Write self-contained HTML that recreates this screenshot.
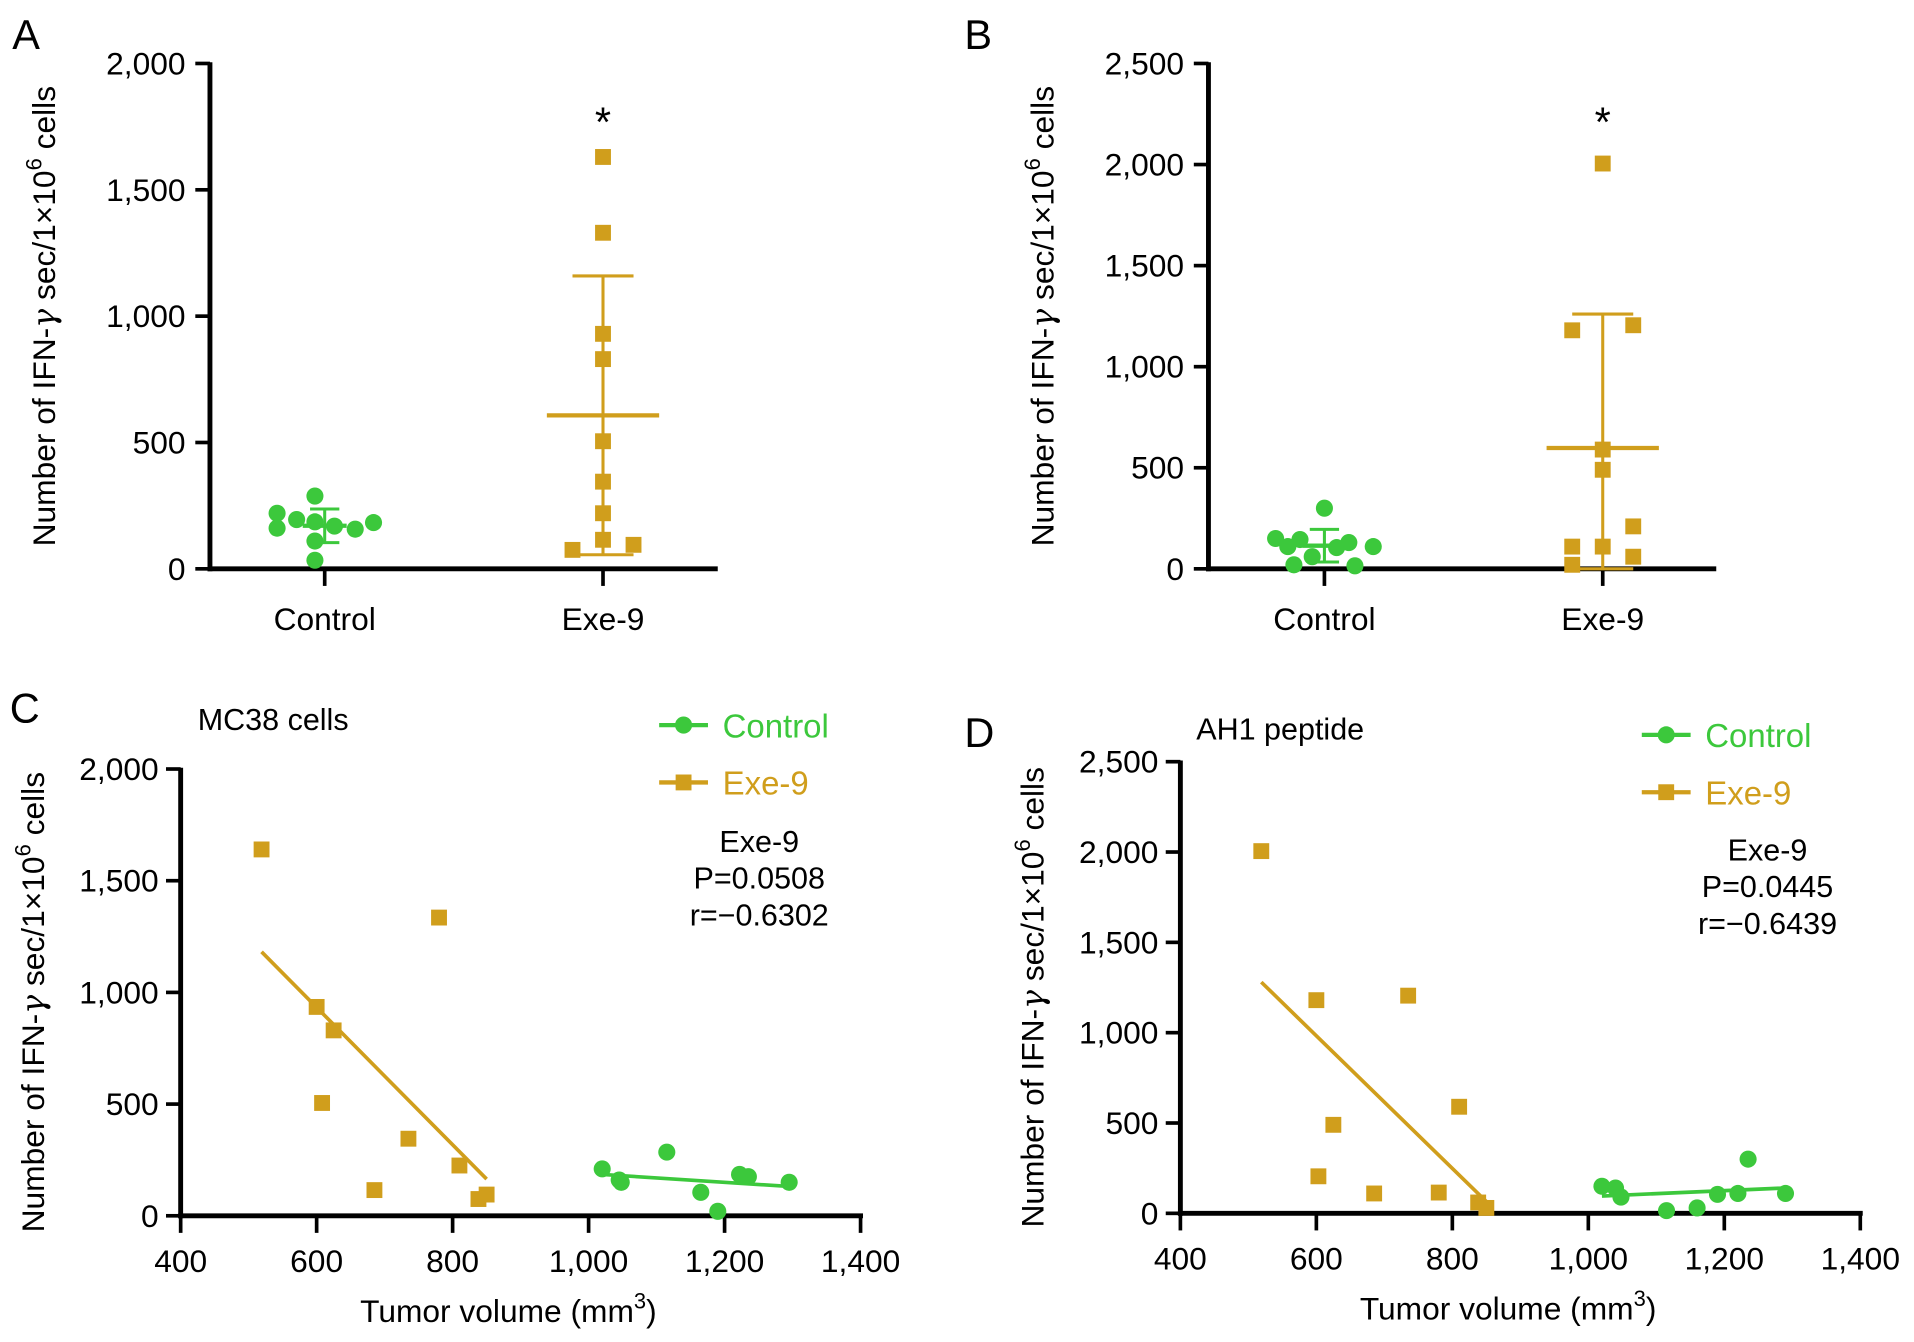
<!DOCTYPE html>
<html><head><meta charset="utf-8"><style>
html,body{margin:0;padding:0;background:#fff}
svg{display:block}
text{font-family:"Liberation Sans",Arial,sans-serif}
</style></head><body>
<svg id="fig" xmlns="http://www.w3.org/2000/svg" width="1914" height="1342" viewBox="0 0 1568 1099.4"></svg>
<script>
const GREEN = '#3cc83c', GOLD = '#d09e1c';
// Panel A data
const aControl = [288,220,195,186,169,157,183,161,110,34];
const aExe = [1630,1330,930,830,505,345,220,115,75,95];
// Panel B data
const bControl = [300,150,145,130,110,110,105,60,20,15];
const bExe = [2005,1180,1205,590,490,110,110,210,60,20];
// jitter (column offsets, display order)
const jitC = [-8,-39,-23,-8,8,25,40,-39,-8,-8];
const jitE = [0,0,0,0,0,0,0,0,-25,25];
const jitBC = [0,-40,-20,20,40,-30,10,-10,-25,25];
const jitBE = [0,-25,25,0,0,-25,0,25,25,-25];
// Panel C data
const cExeX = [519,600,625,608,685,735,780,810,838,850];
const cExeY = [1640,935,830,505,115,345,1335,225,75,95];
const cCtlX = [1020,1045,1048,1115,1165,1190,1222,1235,1295];
const cCtlY = [210,160,150,285,105,20,185,175,150];
// Panel D data
const dExeX = [519,600,625,603,685,735,780,810,838,850];
const dExeY = [2005,1180,490,205,110,1205,115,590,60,30];
const dCtlX = [1020,1040,1048,1115,1160,1190,1220,1235,1290];
const dCtlY = [150,140,90,15,30,105,110,300,110];
const yTicksA = [0,500,1000,1500,2000];
const yTicksB = [0,500,1000,1500,2000,2500];
const xTicksC = [400,600,800,1000,1200,1400];

const NS='http://www.w3.org/2000/svg';
const svg=document.getElementById('fig');
function mk(tag,attrs,parent){const e=document.createElementNS(NS,tag);for(const k in attrs)e.setAttribute(k,attrs[k]);(parent||svg).appendChild(e);return e;}
function txt(s,x,y,size,anchor,fill,parent){const t=mk('text',{x:x,y:y,'font-size':size,'text-anchor':anchor||'start',fill:fill||'#000'},parent);t.textContent=s;return t;}
function fmt(v){return v.toLocaleString('en-US');}
function mean(a){return a.reduce((s,v)=>s+v,0)/a.length;}
function sd(a){const m=mean(a);return Math.sqrt(a.reduce((s,v)=>s+(v-m)*(v-m),0)/(a.length-1));}
function circle(x,y,col,g){const c=mk('circle',{cx:x,cy:y,r:7,fill:col},g);return c;}
function square(x,y,col,g){const r=mk('rect',{x:x-6.5,y:y-6.5,width:13,height:13,fill:col},g);return r;}
function yTitle(x,cy,g){const t=mk('text',{x:0,y:0,'font-size':26,'text-anchor':'middle',transform:`translate(${x},${cy}) rotate(-90)`},g);
 t.innerHTML='Number of IFN-<tspan font-family="DejaVu Serif" font-style="italic">γ</tspan> sec/1×10<tspan dy="-11" font-size="18">6</tspan><tspan dy="11"> cells</tspan>';
 }

function dotPanel(name,letter,lx,ly,ax,top,bot,right,ymax,ticks,xC,xE,ctl,exe,jc,je){
 const g=mk('g',{});
 
 
 const y=v=>bot-(v/ymax)*(bot-top);
 const L=txt(letter,lx,ly,34,'start','#000',g);
 mk('line',{x1:ax,y1:top-1,x2:ax,y2:bot+2,stroke:'#000','stroke-width':4},g);
 mk('line',{x1:ax-2,y1:bot,x2:right,y2:bot,stroke:'#000','stroke-width':4},g);
 ticks.forEach(v=>{mk('line',{x1:ax-12,y1:y(v),x2:ax,y2:y(v),stroke:'#000','stroke-width':3},g);
  const t=txt(fmt(v),ax-20,y(v)+9,26,'end','#000',g);});
 [[xC,'Control'],[xE,'Exe-9']].forEach(([x,s])=>{mk('line',{x1:x,y1:bot,x2:x,y2:bot+14,stroke:'#000','stroke-width':3},g);
  const t=txt(s,x,bot+50,26,'middle','#000',g);});
 yTitle(ax-127,(top+bot)/2,g);
 [[ctl,xC,GREEN,circle,jc,18,12],[exe,xE,GOLD,square,je,46,25]].forEach(([d,x,col,fn,j,mw,cw])=>{
  const m=mean(d),s=sd(d);
  const eb=mk('g',{},g);
  mk('line',{x1:x,y1:y(Math.max(0,m-s)),x2:x,y2:y(m+s),stroke:col,'stroke-width':2.5},eb);
  mk('line',{x1:x-cw,y1:y(m+s),x2:x+cw,y2:y(m+s),stroke:col,'stroke-width':2.5},eb);
  mk('line',{x1:x-cw,y1:y(Math.max(0,m-s)),x2:x+cw,y2:y(Math.max(0,m-s)),stroke:col,'stroke-width':2.5},eb);
  mk('line',{x1:x-mw,y1:y(m),x2:x+mw,y2:y(m),stroke:col,'stroke-width':3.5},eb);
  d.forEach((v,i)=>{const p=fn(x+j[i],y(v),col,g);
   
   });
 });
 const st=txt('*',xE,y(ymax)+60,34,'middle','#000',g);
}
dotPanel('a','A',10,40,172,52,466,588,2000,yTicksA,266,494,aControl,aExe,jitC,jitE);
dotPanel('b','B',790,40,990,52,466,1406,2500,yTicksB,1085,1313,bControl,bExe,jitBC,jitBE);

function reg(xs,ys){const mx=mean(xs),my=mean(ys);let sxy=0,sxx=0;xs.forEach((x,i)=>{sxy+=(x-mx)*(ys[i]-my);sxx+=(x-mx)*(x-mx);});const b=sxy/sxx;return [b,my-b*mx];}

function scatterPanel(name,letter,lx,ly,ax,top,bot,right,ymax,ticks,sub,subx,suby,exX,exY,ctX,ctY,legX,legY,stX,stY,P,R){
 const g=mk('g',{});
 
 
 const y=v=>bot-(v/ymax)*(bot-top);
 const x=v=>ax+(v-400)/1000*(right-ax);
 const L=txt(letter,lx,ly,34,'start','#000',g);
 const s=txt(sub,subx,suby,25,'start','#000',g);
 mk('line',{x1:ax,y1:top-1,x2:ax,y2:bot+2,stroke:'#000','stroke-width':4},g);
 mk('line',{x1:ax-2,y1:bot,x2:right+2,y2:bot,stroke:'#000','stroke-width':4},g);
 ticks.forEach(v=>{mk('line',{x1:ax-12,y1:y(v),x2:ax,y2:y(v),stroke:'#000','stroke-width':3},g);
  const t=txt(fmt(v),ax-18,y(v)+9,26,'end','#000',g);});
 xTicksC.forEach(v=>{mk('line',{x1:x(v),y1:bot,x2:x(v),y2:bot+14,stroke:'#000','stroke-width':3},g);
  const t=txt(fmt(v),x(v),bot+46,26,'middle','#000',g);});
 yTitle(ax-112,(top+bot)/2+8,g);
 const xt=mk('text',{x:(ax+right)/2-10,y:bot+87,'font-size':26,'text-anchor':'middle'},g);
 xt.innerHTML='Tumor volume (mm<tspan dy="-11" font-size="18">3</tspan><tspan dy="11">)</tspan>';
 
 [[exX,exY,GOLD,square],[ctX,ctY,GREEN,circle]].forEach(([xs,ys,col,fn])=>{
  const [b,a]=reg(xs,ys);const x0=Math.min(...xs),x1=Math.max(...xs);
  const ln=mk('line',{x1:x(x0),y1:y(a+b*x0),x2:x(x1),y2:y(a+b*x1),stroke:col,'stroke-width':3},g);
  
  xs.forEach((v,i)=>{const p=fn(x(v),y(ys[i]),col,g);
   
   });
 });
 [['Control',GREEN,circle,0],['Exe-9',GOLD,square,47]].forEach(([s,col,fn,dy])=>{
  const lg=mk('g',{},g);
  mk('line',{x1:legX,y1:legY+dy,x2:legX+40,y2:legY+dy,stroke:col,'stroke-width':3.5},lg);
  fn(legX+20,legY+dy,col,lg);
  txt(s,legX+52,legY+dy+10,27,'start',col,lg);
 });
 const sg=mk('g',{},g);
 txt('Exe-9',stX,stY,25,'middle','#000',sg);
 txt('P='+P,stX,stY+30,25,'middle','#000',sg);
 txt('r=\u2212'+R,stX,stY+60,25,'middle','#000',sg);
}
scatterPanel('c','C',8,592,148,630,996,705,2000,yTicksA,'MC38 cells',162,598,cExeX,cExeY,cCtlX,cCtlY,540,594,622,698,'0.0508','0.6302');
scatterPanel('d','D',790,612,967,624,994,1524,2500,yTicksB,'AH1 peptide',980,606,dExeX,dExeY,dCtlX,dCtlY,1345,602,1448,705,'0.0445','0.6439');
</script>
</body></html>
